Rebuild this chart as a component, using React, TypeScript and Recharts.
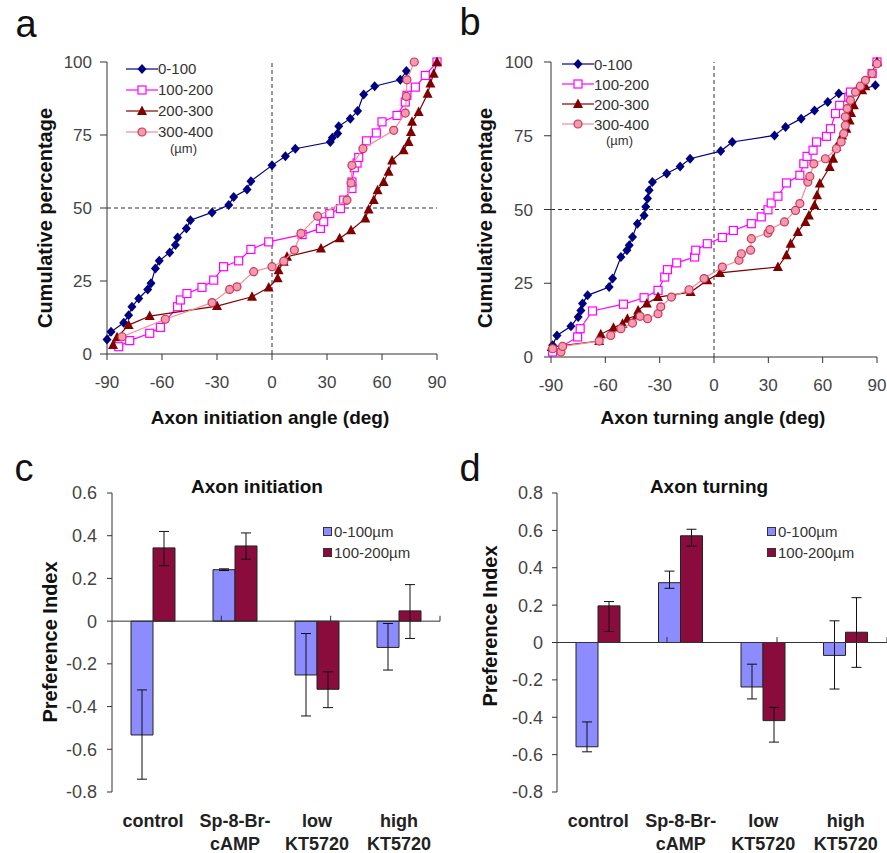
import {
  Bar,
  BarChart,
  ErrorBar,
  ReferenceLine,
  Scatter,
  ScatterChart,
  XAxis,
  YAxis,
} from "recharts";

const FONT = "'Liberation Sans', Arial, sans-serif";

// panel a: cumulative % vs axon initiation angle, one array per distance bin
const initNear: number[][] = [
  [-90, 5.0], [-87.8, 7.6], [-80.9, 10.7], [-78.2, 13.3], [-76.4, 16.2], [-72.7, 19.0],
  [-67.8, 22.1], [-66.0, 24.2], [-63.6, 29.3], [-61.5, 31.9], [-55.8, 34.8], [-52.7, 37.3],
  [-51.5, 39.9], [-46.7, 43.0], [-44.5, 45.8], [-32.7, 48.5], [-23.6, 51.0], [-20.9, 53.8],
  [-13.6, 56.3], [-11.5, 59.2], [0, 64.6], [7.3, 67.7], [12.7, 70.3], [31.8, 72.6],
  [32.9, 74.1], [35.8, 75.5], [36.4, 78.0], [42.7, 80.6], [46.7, 83.2], [50.0, 88.9],
  [56.0, 91.7], [70.0, 93.9], [73.3, 96.9],
];
const initMid: number[][] = [
  [-83.6, 2.5], [-77.6, 4.6], [-66.7, 7.1], [-60.9, 9.1], [-51.5, 16.2], [-50.0, 18.5],
  [-46.4, 20.7], [-38.2, 22.8], [-31.8, 25.3], [-26.4, 29.9], [-18.2, 31.9], [-11.5, 35.8],
  [-1.8, 38.4], [16.4, 40.9], [26.4, 43.0], [28.2, 45.3], [31.5, 48.1], [37.3, 49.8],
  [39.1, 52.7], [43.6, 56.7], [43.6, 58.9], [44.9, 63.8], [46.4, 65.4], [47.3, 67.3],
  [51.5, 73.0], [56.9, 75.7], [60.0, 79.5], [68.2, 81.7], [72.7, 86.3], [73.6, 88.6],
  [78.2, 91.4], [83.6, 95.4], [90, 100],
];
const initFar: number[][] = [
  [-86.7, 3.1], [-84.5, 5.7], [-78.2, 9.9], [-66.7, 13.0], [-30.0, 16.4], [-10.9, 19.6],
  [-1.8, 22.8], [3.1, 25.9], [3.6, 28.7], [6.4, 31.6], [8.2, 33.3], [26.7, 36.1],
  [36.9, 39.6], [43.1, 42.4], [50.9, 46.4], [52.7, 49.5], [55.5, 52.7], [57.6, 56.1],
  [60.9, 58.9], [63.6, 62.4], [65.5, 66.3], [71.8, 69.8], [74.5, 72.6], [75.8, 76.0],
  [76.4, 79.5], [80.0, 82.9], [84.9, 89.1], [86.4, 92.6], [88.2, 96.0], [90, 100],
];
const initFarthest: number[][] = [
  [-81.8, 5.9], [-58.2, 11.9], [-32.7, 17.6], [-23.1, 22.1], [-19.1, 23.0], [-10.0, 28.2],
  [0, 29.9], [6.4, 31.8], [12.2, 35.6], [15.8, 41.3], [24.9, 47.2], [40.9, 52.7],
  [43.1, 58.6], [43.6, 64.6], [49.6, 70.3], [66.4, 76.6], [72.7, 82.5], [73.3, 88.2],
  [73.6, 93.9], [77.6, 100],
];

// panel b: cumulative % vs axon turning angle
const turnNear: number[][] = [
  [-89.1, 4.0], [-86.7, 7.3], [-79.0, 10.4], [-75.0, 13.6], [-73.5, 15.8], [-72.6, 18.1],
  [-69.8, 20.9], [-57.9, 23.7], [-56.0, 26.6], [-51.4, 33.9], [-48.1, 36.2], [-46.8, 37.9],
  [-45.0, 40.7], [-42.3, 45.2], [-38.6, 48.0], [-37.7, 50.9], [-36.7, 53.7], [-35.8, 56.5],
  [-34.0, 59.3], [-26.1, 62.2], [-18.7, 64.6], [-13.2, 67.2], [3.7, 69.8], [10.1, 72.9],
  [33.4, 75.1], [39.5, 78.0], [48.1, 80.8], [55.5, 83.6], [62.8, 86.4], [68.9, 89.3],
  [75.3, 89.3], [89.1, 92.1],
];
const turnMid: number[][] = [
  [-89.1, 1.7], [-75.3, 6.8], [-73.9, 9.6], [-67.1, 15.6], [-50.0, 17.9], [-38.6, 20.1],
  [-30.9, 22.6], [-27.2, 27.1], [-25.7, 29.6], [-20.6, 31.9], [-10.7, 33.9], [-10.1, 36.2],
  [-3.7, 38.4], [4.6, 40.5], [10.7, 42.9], [20.6, 45.2], [26.1, 47.5], [29.8, 49.9],
  [31.6, 52.2], [35.3, 54.5], [40.0, 59.0], [47.4, 61.6], [49.6, 65.5], [51.4, 68.0],
  [54.7, 70.1], [56.6, 72.9], [62.1, 74.8], [64.3, 77.4], [67.1, 82.5], [69.4, 85.3],
  [74.4, 88.1], [75.3, 89.8], [87.3, 96.1], [90, 100],
];
const turnFar: number[][] = [
  [-89.6, 3.4], [-63.4, 5.4], [-62.5, 7.7], [-55.5, 9.9], [-50.5, 11.3], [-47.8, 13.0],
  [-42.6, 14.1], [-41.9, 15.8], [-37.1, 18.1], [-30.9, 20.3], [-12.9, 22.0], [-3.7, 26.0],
  [3.3, 28.5], [35.3, 30.5], [40.0, 34.5], [42.3, 38.4], [46.3, 42.4], [50.5, 45.8],
  [52.4, 48.0], [55.5, 51.4], [56.9, 54.8], [58.4, 58.8], [63.9, 64.4], [65.8, 67.2],
  [67.6, 71.2], [70.7, 75.1], [73.1, 77.4], [74.9, 80.2], [75.7, 82.7], [77.2, 85.3],
  [81.8, 90.4], [83.6, 91.8], [90, 100],
];
const turnFarthest: number[][] = [
  [-89.1, 2.8], [-84.5, 1.7], [-83.6, 3.6], [-63.4, 5.4], [-57.0, 7.3], [-51.4, 9.6],
  [-45.0, 11.5], [-40.8, 13.8], [-36.7, 13.0], [-30.9, 14.7], [-29.4, 17.0], [-23.5, 20.3],
  [-13.8, 22.8], [-5.5, 26.6], [4.6, 30.5], [13.8, 32.8], [15.1, 35.0], [20.2, 36.2],
  [20.6, 40.1], [29.8, 42.0], [30.9, 43.2], [38.9, 45.8], [45.0, 49.7], [47.4, 52.0],
  [51.8, 59.3], [52.9, 61.2], [55.1, 65.5], [61.5, 67.2], [67.6, 70.6], [70.2, 72.9],
  [71.6, 75.7], [72.5, 78.5], [72.5, 81.4], [73.5, 84.2], [75.3, 87.0], [78.1, 89.8],
  [80.8, 91.8], [83.6, 93.8], [87.3, 96.1], [90, 99.4],
];

const angleTicks = [-90, -60, -30, 0, 30, 60, 90];
const pctTicks = [0, 25, 50, 75, 100];
const binNames = ["0-100", "100-200", "200-300", "300-400"];

// panels c/d: preference index, errors are [minus, plus]
const groups = ["control", "Sp-8-Br-\ncAMP", "low\nKT5720", "high\nKT5720"];
const barNames = ["0-100\u00b5m", "100-200\u00b5m"];
const initPiNear = [-0.533, 0.241, -0.252, -0.123];
const initPiNearErr = [[0.207, 0.211], [0.004, 0.004], [0.192, 0.194], [0.106, 0.112]];
const initPiFar = [0.343, 0.352, -0.319, 0.048];
const initPiFarErr = [[0.083, 0.077], [0.062, 0.061], [0.086, 0.082], [0.129, 0.123]];
const turnPiNear = [-0.558, 0.32, -0.238, -0.069];
const turnPiNearErr = [[0.027, 0.133], [0.03, 0.062], [0.064, 0.122], [0.18, 0.185]];
const turnPiFar = [0.196, 0.571, -0.418, 0.055];
const turnPiFarErr = [[0.137, 0.023], [0.055, 0.035], [0.115, 0.071], [0.188, 0.185]];

const BLUE_BAR = "#8c8cff";
const RED_BAR = "#8a0c3c";

const diamond = (p: any) => (
  <path d={`M${p.cx},${p.cy - 5}L${p.cx + 4.5},${p.cy}L${p.cx},${p.cy + 5}L${p.cx - 4.5},${p.cy}Z`} fill="#000080" />
);
const square = (p: any) => (
  <rect x={p.cx - 4} y={p.cy - 4} width={8} height={8} fill="#fff" stroke="#ff00ff" strokeWidth={1.2} />
);
const triangle = (p: any) => (
  <path d={`M${p.cx},${p.cy - 5.5}L${p.cx + 5},${p.cy + 4}L${p.cx - 5},${p.cy + 4}Z`} fill="#800000" />
);
const circle = (p: any) => (
  <circle cx={p.cx} cy={p.cy} r={4} fill="#f49ab0" stroke="#c8385a" strokeWidth={1.2} />
);

const styles = [
  { color: "#000080", line: "#000080", shape: diamond },
  { color: "#ff00ff", line: "#ff00ff", shape: square },
  { color: "#800000", line: "#800000", shape: triangle },
  { color: "#c8385a", line: "#f58a9a", shape: circle },
];

const toPts = (arr: number[][]) => arr.map(([x, y]) => ({ x, y }));

const CumLegend = (p: { left: number; top: number; gap: number }) => (
  <div
    style={{
      position: "absolute",
      left: p.left,
      top: p.top,
      fontFamily: FONT,
      fontSize: 15,
      color: "#333",
    }}
  >
    {binNames.map((n, i) => (
      <div key={n} style={{ display: "flex", alignItems: "center", height: p.gap }}>
        <svg width={32} height={14}>
          <line x1={0} y1={7} x2={32} y2={7} stroke={styles[i].line} strokeWidth={1.2} />
          {styles[i].shape({ cx: 16, cy: 7 })}
        </svg>
        <span>{n}</span>
      </div>
    ))}
    <div style={{ paddingLeft: 44, fontSize: 13, lineHeight: "14px" }}>(&micro;m)</div>
  </div>
);

function CumPanel(props: {
  series: number[][][];
  width: number;
  height: number;
  yAxisW: number;
  right: number;
  xAxisH: number;
  yTickGap: number;
}) {
  const { series, width, height, yAxisW, right, xAxisH, yTickGap } = props;
  const tickStyle = { fill: "#444", fontSize: 17, fontFamily: FONT };
  return (
    <ScatterChart width={width} height={height} margin={{ top: 62, right, bottom: 0, left: 0 }}>
      <XAxis
        type="number"
        dataKey="x"
        domain={[-90, 90]}
        ticks={angleTicks}
        height={xAxisH}
        tickSize={6}
        tickMargin={16}
        tick={tickStyle}
        axisLine={{ stroke: "#333" }}
        tickLine={{ stroke: "#333" }}
      />
      <YAxis
        type="number"
        dataKey="y"
        domain={[0, 100]}
        ticks={pctTicks}
        width={yAxisW}
        tickSize={7}
        tickMargin={yTickGap}
        tick={tickStyle}
        axisLine={{ stroke: "#333" }}
        tickLine={{ stroke: "#333" }}
      />
      <ReferenceLine x={0} stroke="#333" strokeDasharray="4 3" />
      <ReferenceLine y={50} stroke="#333" strokeDasharray="4 3" />
      {series.map((s, i) => (
        <Scatter
          key={binNames[i]}
          name={binNames[i]}
          data={toPts(s)}
          fill={styles[i].color}
          line={{ stroke: styles[i].line, strokeWidth: 1.2 }}
          shape={styles[i].shape}
          isAnimationActive={false}
        />
      ))}
    </ScatterChart>
  );
}

const CatTick = (p: any) => {
  const lines = String(p.payload.value).split("\n");
  return (
    <text x={p.x} y={p.y} textAnchor="middle" fontSize={18} fontWeight="bold" fill="#222" fontFamily={FONT}>
      {lines.map((l, i) => (
        <tspan key={i} x={p.x} dy={i === 0 ? 27 : 23}>{l}</tspan>
      ))}
    </text>
  );
};

const BarLegend = (p: { left: number; top: number }) => (
  <div style={{ position: "absolute", left: p.left, top: p.top, fontFamily: FONT, fontSize: 15, color: "#333" }}>
    {barNames.map((n, i) => (
      <div key={n} style={{ display: "flex", alignItems: "center", height: 21 }}>
        <span
          style={{
            width: 7,
            height: 7,
            marginRight: 2,
            background: i === 0 ? BLUE_BAR : RED_BAR,
            border: "1px solid #333",
            display: "inline-block",
          }}
        />
        <span>{n}</span>
      </div>
    ))}
  </div>
);

function PiPanel(props: {
  near: number[];
  nearErr: number[][];
  far: number[];
  farErr: number[][];
  ticks: number[];
  width: number;
  yAxisW: number;
  right: number;
  tickGap: number;
}) {
  const { near, nearErr, far, farErr, ticks, width, yAxisW, right, tickGap } = props;
  const rows = groups.map((g, i) => ({
    group: g,
    near: near[i],
    nearErr: nearErr[i],
    far: far[i],
    farErr: farErr[i],
  }));
  const lo = ticks[0];
  const hi = ticks[ticks.length - 1];
  const mark = (hi - lo) * 0.018;
  return (
    <BarChart
      width={width}
      height={393}
      data={rows}
      margin={{ top: 33, right, bottom: 0, left: 0 }}
      barSize={22}
      barGap={0}
    >
      <XAxis dataKey="group" axisLine={false} tickLine={false} height={61} interval={0} tick={CatTick} />
      <XAxis xAxisId="n" type="number" domain={[0, 4]} hide />
      <YAxis
        domain={[lo, hi]}
        ticks={ticks}
        width={yAxisW}
        tickSize={5}
        tickMargin={tickGap}
        tickFormatter={(v: number) => (Math.abs(v) < 1e-9 ? "0" : v.toFixed(1))}
        tick={{ fill: "#444", fontSize: 18, fontFamily: FONT }}
        axisLine={{ stroke: "#333" }}
        tickLine={{ stroke: "#333" }}
      />
      <Bar dataKey="near" fill={BLUE_BAR} stroke="#222" strokeWidth={1} isAnimationActive={false}>
        <ErrorBar dataKey="nearErr" width={5} stroke="#111" strokeWidth={1} />
      </Bar>
      <Bar dataKey="far" fill={RED_BAR} stroke="#222" strokeWidth={1} isAnimationActive={false}>
        <ErrorBar dataKey="farErr" width={5} stroke="#111" strokeWidth={1} />
      </Bar>
      <ReferenceLine y={0} stroke="#333" />
      {[1, 2, 3, 4].map((k) => (
        <ReferenceLine key={k} xAxisId="n" segment={[{ x: k, y: 0 }, { x: k, y: mark }]} stroke="#333" />
      ))}
    </BarChart>
  );
}

const abs = (left: number, top: number): React.CSSProperties => ({ position: "absolute", left, top });

const Title = (p: { x: number; y: number; text: string; size: number; bold?: boolean; rotate?: boolean }) => (
  <div
    style={{
      position: "absolute",
      left: p.x,
      top: p.y,
      transform: `translate(-50%, -50%)${p.rotate ? " rotate(-90deg)" : ""}`,
      whiteSpace: "nowrap",
      fontSize: p.size,
      fontWeight: p.bold ? "bold" : "normal",
      color: "#111",
      lineHeight: 1,
    }}
  >
    {p.text}
  </div>
);

export default function App() {
  return (
    <div style={{ position: "absolute", left: 0, top: 0, width: 887, height: 853, background: "#fff", fontFamily: FONT }}>
      <div style={abs(0, 0)}>
        <CumPanel
          series={[initNear, initMid, initFar, initFarthest]}
          width={450}
          height={440}
          yAxisW={107}
          right={13}
          xAxisH={86}
          yTickGap={8}
        />
      </div>
      <div style={abs(440, 0)}>
        <CumPanel
          series={[turnNear, turnMid, turnFar, turnFarthest]}
          width={447}
          height={440}
          yAxisW={111}
          right={10}
          xAxisH={83}
          yTickGap={11}
        />
      </div>
      <div style={abs(0, 460)}>
        <PiPanel
          near={initPiNear}
          nearErr={initPiNearErr}
          far={initPiFar}
          farErr={initPiFarErr}
          ticks={[-0.8, -0.6, -0.4, -0.2, 0, 0.2, 0.4, 0.6]}
          width={445}
          yAxisW={112}
          right={5}
          tickGap={10}
        />
      </div>
      <div style={abs(440, 460)}>
        <PiPanel
          near={turnPiNear}
          nearErr={turnPiNearErr}
          far={turnPiFar}
          farErr={turnPiFarErr}
          ticks={[-0.8, -0.6, -0.4, -0.2, 0, 0.2, 0.4, 0.6, 0.8]}
          width={447}
          yAxisW={117}
          right={0}
          tickGap={9}
        />
      </div>

      <CumLegend left={126} top={58} gap={21} />
      <CumLegend left={562} top={54} gap={20} />
      <BarLegend left={323} top={521} />
      <BarLegend left={767} top={521} />

      <Title x={26} y={24} text="a" size={38} />
      <Title x={470} y={22} text="b" size={38} />
      <Title x={24} y={468} text="c" size={38} />
      <Title x={470} y={468} text="d" size={38} />

      <Title x={45} y={218} text="Cumulative percentage" size={20} bold rotate />
      <Title x={485} y={218} text="Cumulative percentage" size={20} bold rotate />
      <Title x={270} y={417} text="Axon initiation angle (deg)" size={19} bold />
      <Title x={713} y={417} text="Axon turning angle (deg)" size={19} bold />

      <Title x={257} y={486} text="Axon initiation" size={19} bold />
      <Title x={709} y={486} text="Axon turning" size={19} bold />
      <Title x={50} y={642} text="Preference Index" size={20} bold rotate />
      <Title x={490} y={626} text="Preference Index" size={20} bold rotate />
    </div>
  );
}
